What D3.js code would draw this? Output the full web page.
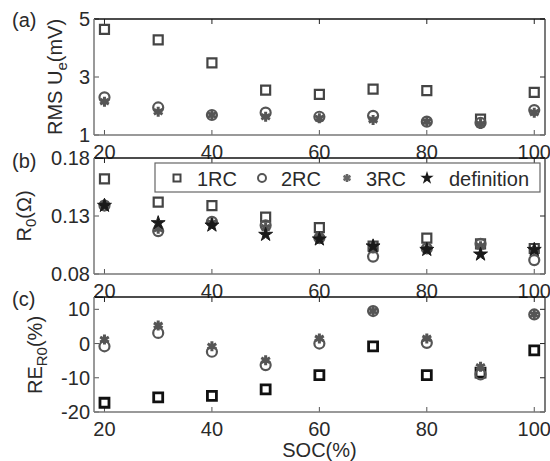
<!DOCTYPE html>
<html><head><meta charset="utf-8">
<script src="https://cdn.jsdelivr.net/npm/d3@7"></script>
<style>body{margin:0;background:#fff}svg{display:block;font-family:Arial,"Liberation Sans",sans-serif}</style>
</head><body><svg id="c" width="550" height="461"></svg>
<script>
const soc = [20,30,40,50,60,70,80,90,100];
const xTicks = [20,40,60,80,100];
// panel (a) RMS Ue (mV)
const rms1RC = [4.64,4.28,3.49,2.55,2.40,2.58,2.53,1.55,2.47];
const rms2RC = [2.30,1.95,1.69,1.77,1.63,1.66,1.46,1.42,1.86];
const rms3RC = [2.15,1.80,1.69,1.63,1.58,1.52,1.46,1.38,1.77];
const aTicks = [1,3,5];
// panel (b) R0 (ohm)
const r01RC = [0.162,0.142,0.139,0.129,0.120,0.104,0.111,0.106,0.102];
const r02RC = [0.139,0.117,0.125,0.122,0.111,0.095,0.102,0.106,0.092];
const r03RC = [0.140,0.119,0.124,0.120,0.112,0.102,0.102,0.104,0.100];
const r0Def = [0.139,0.124,0.122,0.114,0.110,0.104,0.101,0.097,0.101];
const bTicks = [0.08,0.13,0.18];
const bTickLabels = ["0.08","0.13","0.18"];
// panel (c) RE R0 (%)
const re1RC = [-17.3,-15.7,-15.3,-13.4,-9.2,-0.8,-9.2,-8.5,-2.0];
const re2RC = [-0.8,3.1,-2.4,-6.3,0.0,9.5,0.2,-9.0,8.5];
const re3RC = [1.2,5.3,-0.8,-4.9,1.5,9.5,1.5,-6.8,8.5];
const cTicks = [-20,-10,0,10];
const legendLabels = ["1RC","2RC","3RC","definition"];

const svg = d3.select("#c");
const L = 94, R = 545;
const x = d3.scaleLinear().domain([18.05,102]).range([L,R]);

const sqPath = s => `M${-s/2},${-s/2}h${s}v${s}h${-s}Z`;
function drawMarkers(g, xs, ys, y, kind, opt={}) {
  const sel = g.append("g").selectAll("path").data(xs.map((d,i)=>[d,ys[i]])).join("path")
    .attr("transform", d=>`translate(${x(d[0])},${y(d[1])})`);
  if (kind==="sq") sel.attr("d", sqPath(opt.size||9)).attr("fill","#fff").attr("stroke",opt.color||"#444").attr("stroke-width",opt.sw||2.2);
  if (kind==="ci") sel.attr("d", d3.symbol(d3.symbolCircle, Math.PI*25)()).attr("fill","none").attr("stroke","#555").attr("stroke-width",2.2);
  if (kind==="as") sel.attr("d", d3.symbol(d3.symbolAsterisk, 70)()).attr("fill","none").attr("stroke","#555").attr("stroke-width",3);
  if (kind==="st") sel.attr("d", d3.symbol(d3.symbolStar, 60)()).attr("fill","#1a1a1a").attr("stroke","#1a1a1a").attr("stroke-width",1);
}

function panel(top, bottom, domain, ticks, tickLabels) {
  const y = d3.scaleLinear().domain(domain).range([bottom, top]);
  const g = svg.append("g");
  xTicks.forEach(t=>{
    g.append("line").attr("x1",x(t)).attr("x2",x(t)).attr("y1",bottom).attr("y2",bottom-5).attr("stroke","#555");
    g.append("line").attr("x1",x(t)).attr("x2",x(t)).attr("y1",top).attr("y2",top+5).attr("stroke","#222");
    g.append("text").attr("x",x(t)).attr("y",bottom+24).attr("text-anchor","middle").attr("font-size",20).attr("fill","#2a2a2a").text(t);
  });
  ticks.forEach((t,i)=>{
    g.append("line").attr("x1",L).attr("x2",L+5).attr("y1",y(t)).attr("y2",y(t)).attr("stroke","#555");
    g.append("line").attr("x1",R).attr("x2",R-5).attr("y1",y(t)).attr("y2",y(t)).attr("stroke","#222");
    g.append("text").attr("x",90).attr("y",y(t)+7).attr("text-anchor","end").attr("font-size",20).attr("fill","#2a2a2a").text(tickLabels ? tickLabels[i] : t);
  });
  g.append("line").attr("x1",L).attr("x2",R).attr("y1",top).attr("y2",top).attr("stroke","#111").attr("stroke-width",1.3);
  g.append("line").attr("x1",R).attr("x2",R).attr("y1",top).attr("y2",bottom).attr("stroke","#333").attr("stroke-width",1.3);
  g.append("line").attr("x1",L).attr("x2",R).attr("y1",bottom).attr("y2",bottom).attr("stroke","#777").attr("stroke-width",1.5);
  g.append("line").attr("x1",L).attr("x2",L).attr("y1",top).attr("y2",bottom).attr("stroke","#777").attr("stroke-width",1.5);
  return {g, y};
}

const pa = panel(19, 135, [1,5], aTicks);
drawMarkers(pa.g, soc, rms1RC, pa.y, "sq");
drawMarkers(pa.g, soc, rms2RC, pa.y, "ci");
drawMarkers(pa.g, soc, rms3RC, pa.y, "as");

const pb = panel(158, 274, [0.08,0.18], bTicks, bTickLabels);
drawMarkers(pb.g, soc, r01RC, pb.y, "sq");
drawMarkers(pb.g, soc, r02RC, pb.y, "ci");
drawMarkers(pb.g, soc, r03RC, pb.y, "as");
drawMarkers(pb.g, soc, r0Def, pb.y, "st");

const pc = panel(297, 412, [-20,13.6], cTicks);
drawMarkers(pc.g, soc, re1RC, pc.y, "sq", {color:"#111", sw:2.8, size:9});
drawMarkers(pc.g, soc, re2RC, pc.y, "ci");
drawMarkers(pc.g, soc, re3RC, pc.y, "as");

const lg = svg.append("g");
lg.append("rect").attr("x",155).attr("y",163).attr("width",385).attr("height",29).attr("fill","#fff").attr("stroke","#666").attr("stroke-width",1.2);
const lgItems = [
  {mx:177, tx:197, kind:"sq"},
  {mx:262, tx:281, kind:"ci"},
  {mx:347, tx:366, kind:"as"},
  {mx:427, tx:449, kind:"st"}
];
lgItems.forEach((it,i)=>{
  const p = lg.append("path").attr("transform",`translate(${it.mx},178)`);
  if (it.kind==="sq") p.attr("d",sqPath(7)).attr("fill","#fff").attr("stroke","#444").attr("stroke-width",2);
  if (it.kind==="ci") p.attr("d",d3.symbol(d3.symbolCircle,Math.PI*16)()).attr("fill","none").attr("stroke","#555").attr("stroke-width",2);
  if (it.kind==="as") p.attr("d",d3.symbol(d3.symbolAsterisk,45)()).attr("fill","none").attr("stroke","#666").attr("stroke-width",2.6);
  if (it.kind==="st") p.attr("d",d3.symbol(d3.symbolStar,55)()).attr("fill","#1a1a1a");
  lg.append("text").attr("x",it.tx).attr("y",186).attr("font-size",20).attr("fill","#2a2a2a").text(legendLabels[i]);
});

function ylab(xp, yc, parts) {
  const t = svg.append("text").attr("transform",`translate(${xp},${yc}) rotate(-90)`).attr("text-anchor","middle").attr("font-size",20).attr("fill","#2a2a2a");
  parts.forEach(p=>{
    const ts = t.append("tspan").text(p.t);
    if (p.sub) ts.attr("font-size",15).attr("dy",5);
    else if (p.back) ts.attr("dy",-5);
  });
}
ylab(62, 77, [{t:"RMS U"},{t:"e",sub:true},{t:"(mV)",back:true}]);
ylab(31, 216, [{t:"R"},{t:"0",sub:true},{t:"(Ω)",back:true}]);
ylab(42, 355, [{t:"RE"},{t:"R0",sub:true},{t:"(%)",back:true}]);

svg.append("text").attr("x",(L+R)/2).attr("y",457).attr("text-anchor","middle").attr("font-size",20).attr("fill","#2a2a2a").text("SOC(%)");
svg.append("text").attr("x",12).attr("y",27).attr("font-size",20).attr("fill","#2a2a2a").text("(a)");
svg.append("text").attr("x",12).attr("y",168).attr("font-size",20).attr("fill","#2a2a2a").text("(b)");
svg.append("text").attr("x",12).attr("y",306).attr("font-size",20).attr("fill","#2a2a2a").text("(c)");
</script></body></html>
